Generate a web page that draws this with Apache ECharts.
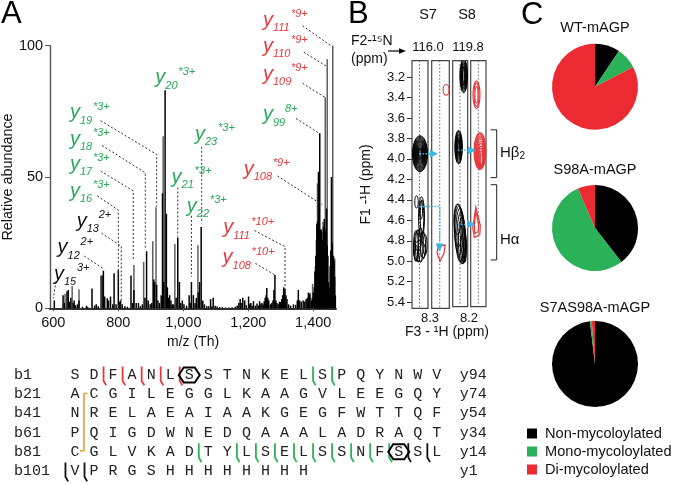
<!DOCTYPE html>
<html><head><meta charset="utf-8">
<style>html,body{margin:0;padding:0;background:#fff}#c{width:677px;height:485px}</style>
<script src="https://cdn.jsdelivr.net/npm/echarts@6/dist/echarts.min.js"></script>
</head><body><div id="c"></div>
<script>
const SANS='"Liberation Sans",Arial,sans-serif', MONO='"Liberation Mono",monospace';
const BLACK='#000', GREEN='#27a95a', RED='#e6393c', PIEGREEN='#2bb158', PIERED='#ec2a32', BLUE='#3ab7e6', ORANGE='#e6a22e';

// Panel A: spectrum peaks [m/z, relative abundance]
const peaksGrey=[[636,5.5],[658,8.5],[679,7.3],[746,12.5],[848,16.5],[878,17.7],[906,25.5],[916,38.5],[938,65.5],[974,24.5],[1045,24],[1398,9.3],[1413,47.6],[1430,33],[1437,80.3],[1443,94.8],[1460,100],[1466,19]];
const peaksBlack=[[603,3],[630,5],[634,2],[642,6.5],[646,7],[650,2.5],[654,4],[661,2],[664,3],[668,1.2],[674,1.5],[679,3],[690,.6],[702,1],[706,.5],[719,7.5],[727,1],[732,1.5],[738,.8],[750,12.5],[754,14.3],[758,4.5],[766,3.8],[770,3],[776,4.5],[783,1.5],[787,13.3],[793,1.5],[800,14.5],[804,2.5],[807,3],[812,1.5],[820,.8],[828,.6],[839,12.5],[844,2],[848,7],[855,2],[862,2],[868,.8],[874,1.5],[882,4],[887,21.7],[892,3],[898,1.5],[903,2],[909,11],[912,10],[918,9],[922,3],[927,2],[932,5],[936,43.8],[940,10],[944,83],[948,36],[951,8],[955,4],[958,5],[962,3],[966,1.5],[970,1.5],[978,4],[983,27],[988,10],[992,2],[997,3],[1002,1.5],[1010,1],[1018,5],[1022,2],[1025,10],[1031,5],[1036,2],[1040,4],[1046,6],[1050,10],[1055,31],[1060,3],[1065,1.5],[1072,.8],[1078,.8],[1084,3.5],[1088,.7],[1092,4],[1098,1],[1104,.7],[1112,.5],[1120,.4],[1130,.3],[1140,.3],[1150,.4],[1160,.6],[1166,1],[1171,2],[1175,3.5],[1178,2],[1183,4],[1189,3],[1194,1.2],[1201,4.5],[1204,1.5],[1208,2],[1212,1],[1216,2.7],[1222,1],[1227,1.8],[1231,1],[1235,2.7],[1239,1.5],[1242,2],[1246,1.4],[1249,2.7],[1252,4],[1255,5],[1257,7.7],[1260,4],[1263,3],[1268,1.5],[1272,2],[1276,3],[1279,7],[1282,12.7],[1285,3],[1288,2],[1292,1.5],[1296,2.5],[1300,2.4],[1303,3.5],[1306,5],[1309,8],[1311,6],[1313,7.5],[1316,5],[1319,3.5],[1324,1.5],[1330,1],[1339,1.5],[1346,1.3],[1351,3],[1354,7],[1358,3],[1363,2.5],[1369,3],[1374,2.6],[1378,3.5],[1382,4],[1385,6],[1388,5],[1390,5.7],[1394,3],[1397,4],[1400,6],[1403,8],[1405,14],[1407,16],[1408,20],[1410,26],[1411,32],[1413,33],[1414,30],[1416,52],[1418,28],[1420,66.7],[1422,30],[1424,28],[1425,30],[1426,29],[1428,26],[1430,25],[1432,31],[1434,34],[1436,30],[1438,29],[1439,27],[1441,38],[1443,24],[1445,20],[1447,10],[1449,5],[1451,8],[1452,16],[1454,22],[1456,50],[1458,25],[1460,18],[1462,20],[1464,18],[1466,12],[1468,5]];
const xTicksA=[600,800,1000,1200,1400];

// Ion labels: [m/z, abundance, group, subscript, superscript, superscript offset]
const ionLabels=[
[1245,108.2,'r','111','*9+',27],[1245,98.3,'r','110','*9+',27],[1245,87.6,'r','109','*9+',27],
[1245,72.3,'g','99','8+',21],[1186,51.4,'r','108','*9+',28],[1123,29.2,'r','111','*10+',27],[1121,17.8,'r','108','*10+',28],
[1036,64.7,'g','23','*3+',22],[964,48.5,'g','21','*3+',22],[1011,37.4,'g','22','*3+',22],[914,86.3,'g','20','*3+',22],
[651,73,'g','19','*3+',22],[651,62.8,'g','18','*3+',22],[651,53.3,'g','17','*3+',22],[651,43.1,'g','16','*3+',22],
[672,31.7,'k','13','2+',21],[613,21.6,'k','12','2+',22],[602,11.4,'k','15','3+',22]];

// Leader lines, in [m/z, abundance]
const leaders=[
[[1367,107.6],[1459,99.6]],[[1371,97.5],[1439,92.3]],[[1367,85.7],[1436,80.3]],[[1347,72.3],[1415,66.9]],
[[1290,50.4],[1405,41.2],[1428,39.5]],[[1219,29.6],[1313,23.5],[1313,8.2]],[[1222,17.1],[1282,12.7]],
[[1056.6,61.5],[1056.6,32.4]],[[1025,35.2],[1025,12]],[[983,46],[983,27.3]],
[[746,71.4],[918,58.6],[918,38.7]],[[750,62],[883,51.6],[883,22.2]],[[746,52.2],[846,44.7],[846,18.4]],[[735.5,42.8],[800,37.4],[800,8.2]],
[[748,28.6],[809,23.7],[809,2.5]],[[695,19.9],[753,15.2]],[[608,10.2],[600,3.8]]];

// Panel B: contours [F3 ppm, F1 ppm, radius F3, radius F1]
const strip1Black=[[8.29,3.95,.15,.176],[8.29,3.95,.14,.168],[8.29,3.95,.13,.158],[8.29,3.95,.12,.148],[8.29,3.95,.11,.138],[8.29,3.95,.1,.128],[8.29,3.95,.09,.118],[8.29,3.95,.08,.108],[8.29,3.95,.07,.098],[8.29,3.95,.06,.088],[8.29,3.95,.05,.078],[8.29,3.95,.04,.068],[8.29,3.95,.03,.058],[8.29,3.95,.02,.048],
[8.36,4.42,.035,.06],[8.26,4.57,.06,.2],[8.25,4.57,.035,.17],[8.27,4.5,.03,.09],
[8.37,4.85,.05,.15],[8.33,4.85,.05,.16],[8.28,4.84,.05,.17],[8.23,4.84,.05,.13],[8.19,4.84,.04,.1],[8.33,4.8,.07,.1],[8.3,4.9,.12,.1],[8.37,4.92,.03,.08]];
const strip2Red=[[8.174,3.325,.06,.052]];
const strip2RedPoly=[[8.334,4.86],[8.194,4.84],[8.214,4.92],[8.294,5.0],[8.354,4.92]];
const strip3Black=[[8.126,3.19,.075,.165],[8.126,3.19,.065,.155],[8.126,3.19,.055,.14],[8.126,3.19,.045,.13],[8.126,3.19,.035,.115],[8.126,3.19,.025,.1],[8.126,3.19,.015,.09],
[8.228,3.89,.075,.165],[8.228,3.89,.066,.155],[8.228,3.89,.057,.145],[8.228,3.89,.048,.13],[8.228,3.89,.039,.115],[8.228,3.89,.03,.1],[8.228,3.89,.021,.085],[8.228,3.89,.012,.07],
[8.25,4.6,.07,.15],[8.235,4.66,.08,.21],[8.22,4.71,.085,.24],[8.2,4.75,.085,.26],[8.18,4.78,.08,.25],[8.16,4.81,.07,.23],[8.14,4.84,.05,.2],[8.12,4.86,.04,.17],[8.1,4.88,.03,.14]];
const strip4Red=[[8.236,3.375,.07,.135],[8.236,3.375,.05,.115],[8.236,3.375,.03,.08],
[8.166,3.93,.12,.18],[8.166,3.93,.11,.17],[8.163,3.94,.1,.16],[8.16,3.945,.09,.15],[8.157,3.95,.08,.14],[8.154,3.96,.07,.125],[8.15,3.97,.06,.115],[8.147,3.98,.05,.1],[8.144,3.99,.04,.085],[8.14,4.0,.03,.07],[8.14,4.01,.02,.055]];
const strip4RedPoly=[[8.25,4.48],[8.16,4.66],[8.17,4.75],[8.28,4.78],[8.31,4.68]];
const strip4RedPoly2=[[8.25,4.52],[8.19,4.66],[8.2,4.72],[8.27,4.74],[8.28,4.66]];
const ticksF1=[3.2,3.4,3.6,3.8,4.0,4.2,4.4,4.6,4.8,5.0,5.2,5.4];
const arrowsStrip1=[[[8.3,3.95],[7.93,3.95]],[[8.3,4.465],[7.89,4.465],[7.9,4.905]]];
const arrowsStrip3=[[[8.24,3.92],[7.88,3.92]],[[8.24,4.65],[7.9,4.65]]];
const brackets=[[[7.952,3.72],[7.832,3.72],[7.832,4.19],[7.952,4.19]],[[7.952,4.26],[7.832,4.26],[7.832,5.0],[7.952,5.0]]];

// Panel C: pies
const groups=['Non-mycoloylated','Mono-mycoloylated','Di-mycoloylated'];
const wtValues=[9.4,8,82.6];
const s98aValues=[39.5,54,6.5];
const s7as98aValues=[98.1,.7,1.2];

// Sequence
const rowTags=['b1','b21','b41','b61','b81','b101'];
const endTags=['y94','y74','y54','y34','y14','y1'];
const seqRows=['SDFANLSSTNKELSPQYNWV','ACGILEGGLKAAGVLEEGQY','NRELAEAIAAKGEGFWTTQF','PQIGDWNEDQAAALADRAQT','CGLVKADTYLSELSSNFSSL','VPRGSHHHHHHHH'];
const redCuts=[[1.5,0],[2.5,0],[3.5,0],[4.5,0],[5.5,0]];
const greenCuts=[[12.5,0],[13.5,0],[6.5,4],[8.5,4],[9.5,4],[10.5,4],[11.5,4],[12.5,4],[13.5,4],[14.5,4],[15.5,4],[16.5,4]];
const blackCuts=[[17.5,4],[18.5,4],[-.5,5],[.5,5]];
const hexagons=[[6,0],[17,4]];
const disulfide=[[.65,.95],[.47,.98],[.47,3.94],[.26,3.96]];

const colorOf={r:RED,g:GREEN,k:'#111'};
function polyItem(pts,color,w,dash){return {type:'polyline',shape:{points:pts},style:{stroke:color,fill:null,lineWidth:w,lineDash:dash||null}};}
function txt(x,y,s,font,fill,align,v){return {type:'text',x:x,y:y,style:{text:s,font:font,fill:fill,align:align||'left',verticalAlign:v||'middle'}};}

function ionSeries(){return {type:'custom',xAxisIndex:0,yAxisIndex:0,clip:false,z:5,encode:{x:0,y:1},data:ionLabels,
 renderItem:(p,api)=>{const d=ionLabels[p.dataIndex],c=api.coord([d[0],d[1]]),col=colorOf[d[2]];
  return {type:'group',children:[
   txt(c[0],c[1]-4,'y','italic 20px '+SANS,col),
   txt(c[0]+10,c[1]+4,d[3],'italic 11px '+SANS,col),
   txt(c[0]+d[5]+1,c[1]-10,d[4],'italic 11px '+SANS,col)]};}};}
function leaderSeries(){return {type:'custom',xAxisIndex:0,yAxisIndex:0,clip:false,z:4,data:leaders.map((l,i)=>[l[0][0],l[0][1],i]),encode:{x:0,y:1},
 renderItem:(p,api)=>polyItem(leaders[p.dataIndex].map(q=>api.coord(q)),'#333',1,[2,2])};}

function ellSeries(idx,list,color,w){return {type:'custom',xAxisIndex:idx,yAxisIndex:idx,clip:true,z:3,data:list,encode:{x:0,y:1},
 renderItem:(p,api)=>{const d=list[p.dataIndex],c=api.coord([d[0],d[1]]),s=api.size([d[2],d[3]]);
  return {type:'ellipse',shape:{cx:c[0],cy:c[1],rx:s[0],ry:s[1]},style:{stroke:color,fill:null,lineWidth:w||1}};}};}
function polySeries(idx,list,color){return {type:'custom',xAxisIndex:idx,yAxisIndex:idx,clip:true,z:3,data:[list[0]],encode:{x:0,y:1},
 renderItem:(p,api)=>({type:'polygon',shape:{points:list.map(q=>api.coord(q))},style:{stroke:color,fill:null,lineWidth:1.2}})};}
function centerLine(idx,ppm){return {type:'line',xAxisIndex:idx,yAxisIndex:idx,z:2,symbol:'none',silent:true,data:[[ppm,3.04],[ppm,5.46]],lineStyle:{color:'#666',width:1,type:[1.5,2]}};}
function arrowSeries(idx,list){return {type:'custom',xAxisIndex:idx,yAxisIndex:idx,clip:false,z:6,data:list.map(l=>l[0]),encode:{x:0,y:1},
 renderItem:(p,api)=>{const pts=list[p.dataIndex].map(q=>api.coord(q)),e=pts[pts.length-1],b=pts[pts.length-2];
  const a=Math.atan2(e[1]-b[1],e[0]-b[0]),L=8,W=4;
  const tail=[e[0]-L*Math.cos(a),e[1]-L*Math.sin(a)];
  const head=[e,[tail[0]-W*Math.sin(a),tail[1]+W*Math.cos(a)],[tail[0]+W*Math.sin(a),tail[1]-W*Math.cos(a)]];
  return {type:'group',children:[polyItem(pts.slice(0,-1).concat([tail]),BLUE,1.4,[1.6,1.4]),{type:'polygon',shape:{points:head},style:{fill:BLUE}}]};}};}
function bracketSeries(){return {type:'custom',xAxisIndex:4,yAxisIndex:4,clip:false,z:6,data:brackets.map(l=>l[0]),encode:{x:0,y:1},
 renderItem:(p,api)=>polyItem(brackets[p.dataIndex].map(q=>api.coord(q)),'#222',1)};}

function pie(name,vals,y){return {type:'pie',name:name,center:[595,y],radius:[0,43],startAngle:90,silent:true,label:{show:false},labelLine:{show:false},itemStyle:{borderWidth:0},
 data:groups.map((g,i)=>({name:g,value:vals[i]}))};}

function seqTextData(){const out=[];seqRows.forEach((r,i)=>{out.push([-3.2,i,rowTags[i],'left']);[...r].forEach((ch,j)=>out.push([j,i,ch,'center']));out.push([20.2,i,endTags[i],'left']);});return out;}
const seqText=seqTextData();
function cutSeries(list,color,w){return {type:'custom',xAxisIndex:5,yAxisIndex:5,clip:false,z:4,data:list,encode:{x:0,y:1},
 renderItem:(p,api)=>{const d=list[p.dataIndex];return polyItem([api.coord([d[0],d[1]-.44]),api.coord([d[0],d[1]+.3]),api.coord([d[0]+.14,d[1]+.54])],color,w||1.8);}};}

const stripAxes=[[8.13,8.45],[8.11,8.46],[8.046,8.346],[8.046,8.352]];
const stripBoxes=[[412,16,60.7,247.6],[431.7,17.6,60.7,247.6],[452.7,15,60.7,246],[470.7,15.3,60.7,246]];
const grids=[{left:49,width:287,top:45.7,height:262.6,containLabel:false}];
stripBoxes.forEach(b=>grids.push({left:b[0],width:b[1],top:b[2],height:b[3],show:true,borderColor:'#444',borderWidth:1.2,backgroundColor:'transparent'}));
grids.push({left:.7,width:493.3,top:365.4,height:115.2});

const xAxes=[{gridIndex:0,type:'value',min:590,max:1470,name:'m/z (Th)',nameLocation:'middle',nameGap:24,nameTextStyle:{color:'#111',fontFamily:SANS,fontSize:14},
 axisLine:{show:true,onZero:false,lineStyle:{color:'#333',width:2}},splitLine:{show:false},
 axisTick:{show:true,customValues:xTicksA,length:3,lineStyle:{color:'#555'}},
 axisLabel:{customValues:xTicksA,color:'#111',fontFamily:SANS,fontSize:14.5,margin:7}}];
const yAxes=[{gridIndex:0,type:'value',min:0,max:100,interval:50,name:'Relative abundance',nameLocation:'middle',nameGap:33,nameTextStyle:{color:'#111',fontFamily:SANS,fontSize:14.4},
 axisLine:{show:true,lineStyle:{color:'#555',width:1.4}},splitLine:{show:false},
 axisTick:{show:true,length:5,lineStyle:{color:'#555'}},
 axisLabel:{color:'#111',fontFamily:SANS,fontSize:14.5,margin:7}}];
stripAxes.forEach((r,i)=>{xAxes.push({gridIndex:i+1,type:'value',min:r[0],max:r[1],inverse:true,show:false});
 yAxes.push({gridIndex:i+1,type:'value',min:3.04,max:5.46,inverse:true,show:i===0,splitLine:{show:false},name:i===0?'F1 -\u00b9H (ppm)':'',nameLocation:'middle',nameGap:39,nameTextStyle:{color:'#111',fontFamily:SANS,fontSize:14},
  axisLine:{show:false},axisTick:{show:i===0,customValues:ticksF1,length:5,lineStyle:{color:'#333'}},
  axisLabel:{customValues:ticksF1,formatter:v=>v.toFixed(1),color:'#111',fontFamily:SANS,fontSize:13,margin:7}});});
xAxes.push({gridIndex:5,type:'value',min:-3.9,max:22,show:false});
yAxes.push({gridIndex:5,type:'value',min:-.5,max:5.5,inverse:true,show:false});

const labels=[['A',1,14],['B',348,14],['C',521,15]];
const gfx=labels.map(l=>({type:'text',x:l[1],y:l[2],style:{text:l[0],font:'31px '+SANS,fill:'#000',verticalAlign:'middle'}}));
function g(x,y,s,size,align){gfx.push({type:'text',x:x,y:y,style:{text:s,font:size+'px '+SANS,fill:'#111',align:align||'center',verticalAlign:'middle'}});}
g(428,15,'S7',14.5);g(467,15,'S8',14.5);g(428,47.5,'116.0',13);g(468,47.5,'119.8',13);
g(351,41.5,'F2-\u00b9\u2075N',14,'left');g(351,59,'(ppm)',14,'left');
g(430,318,'8.3',13);g(469,318,'8.2',13);g(447,332,'F3 - \u00b9H (ppm)',14);
gfx.push({type:'line',shape:{x1:388,y1:51,x2:402,y2:51},style:{stroke:'#000',lineWidth:1.2}});
gfx.push({type:'polygon',shape:{points:[[406,51],[399,48.3],[399,53.7]]},style:{fill:'#000'}});
gfx.push({type:'text',x:500,y:153,style:{rich:{a:{font:'15px '+SANS,fill:'#111'},b:{font:'10px '+SANS,fill:'#111',padding:[6,0,0,0]}},text:'{a|H\u03b2}{b|2}',verticalAlign:'middle'}});
g(500,240,'H\u03b1',15,'left');
g(595,28,'WT-mAGP',14.5);g(595,170,'S98A-mAGP',14.5);g(595,308,'S7AS98A-mAGP',14.5);

const series=[
 {type:'bar',name:'grey',xAxisIndex:0,yAxisIndex:0,data:peaksGrey,barWidth:1.5,barGap:'-100%',itemStyle:{color:'#5f5f5f'},silent:true,z:2},
 {type:'bar',name:'black',xAxisIndex:0,yAxisIndex:0,data:peaksBlack,barWidth:1.5,barGap:'-100%',itemStyle:{color:'#000'},silent:true,z:3},
 leaderSeries(),ionSeries(),
 centerLine(1,8.3),centerLine(2,8.3),centerLine(3,8.2),centerLine(4,8.2),
 ellSeries(1,strip1Black,'#000',1),ellSeries(2,strip2Red,RED,1.1),polySeries(2,strip2RedPoly,RED),
 ellSeries(3,strip3Black,'#000',1),ellSeries(4,strip4Red,RED,1.1),polySeries(4,strip4RedPoly,RED),polySeries(4,strip4RedPoly2,RED),
 arrowSeries(1,arrowsStrip1),arrowSeries(3,arrowsStrip3),bracketSeries(),
 {type:'custom',xAxisIndex:5,yAxisIndex:5,clip:false,z:3,data:seqText,encode:{x:0,y:1},
  renderItem:(p,api)=>{const d=seqText[p.dataIndex],c=api.coord([d[0],d[1]]);return txt(c[0],c[1],d[2],'15px '+MONO,'#222',d[3]);}},
 cutSeries(redCuts,RED),cutSeries(greenCuts,PIEGREEN),cutSeries(blackCuts,'#111'),
 {type:'custom',xAxisIndex:5,yAxisIndex:5,clip:false,z:5,data:hexagons,encode:{x:0,y:1},
  renderItem:(p,api)=>{const c=api.coord([hexagons[p.dataIndex][0],hexagons[p.dataIndex][1]]),a=10.5,b=5.5,h=7.5;
   return {type:'polygon',shape:{points:[[c[0]-a,c[1]],[c[0]-b,c[1]-h],[c[0]+b,c[1]-h],[c[0]+a,c[1]],[c[0]+b,c[1]+h],[c[0]-b,c[1]+h]]},style:{stroke:'#000',fill:null,lineWidth:2}};}},
 {type:'custom',xAxisIndex:5,yAxisIndex:5,clip:false,z:4,data:[disulfide[0]],encode:{x:0,y:1},
  renderItem:(p,api)=>polyItem(disulfide.map(q=>api.coord(q)),ORANGE,1.6)},
 pie('WT-mAGP',wtValues,86.7),pie('S98A-mAGP',s98aValues,228),pie('S7AS98A-mAGP',s7as98aValues,364)
];

const chart=echarts.init(document.getElementById('c'),null,{renderer:'canvas'});
chart.setOption({animation:false,backgroundColor:'#fff',color:[BLACK,PIEGREEN,PIERED],
 grid:grids,xAxis:xAxes,yAxis:yAxes,series:series,
 legend:{data:groups,orient:'vertical',left:527,top:426,padding:0,itemWidth:10,itemHeight:10,itemGap:3,icon:'rect',selectedMode:false,
  textStyle:{fontFamily:SANS,fontSize:14.6,color:'#111',padding:[0,0,0,3]}},
 graphic:{elements:gfx}});
</script></body></html>
